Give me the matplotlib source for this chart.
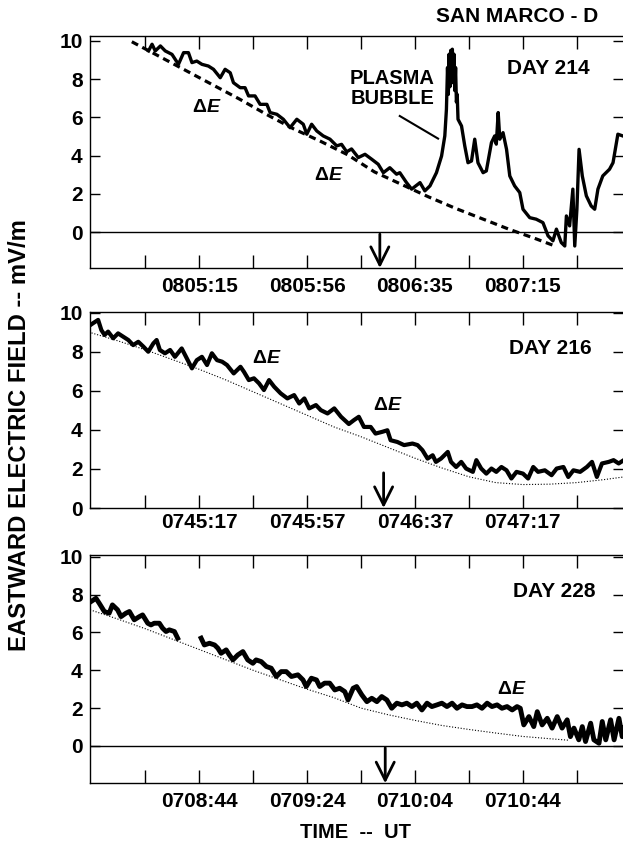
import numpy as np
import matplotlib
matplotlib.use("Agg")
import matplotlib.pyplot as plt

plt.rcParams['font.family'] = ['Liberation Sans', 'DejaVu Sans']
plt.rcParams['font.weight'] = 'bold'
plt.rcParams['mathtext.fontset'] = 'custom'
plt.rcParams['mathtext.rm'] = 'Liberation Sans:bold'
plt.rcParams['mathtext.it'] = 'Liberation Sans:italic:bold'

# time axis: seconds from the first tick, ticks every 20 s
tick_secs = [0, 20, 40, 60, 80, 100, 120, 140, 160]
labels_214 = ['', '0805:15', '', '0805:56', '', '0806:35', '', '0807:15', '']
labels_216 = ['', '0745:17', '', '0745:57', '', '0746:37', '', '0747:17', '']
labels_228 = ['', '0708:44', '', '0709:24', '', '0710:04', '', '0710:44', '']

# day 214 measured field
t214 = [1.2, 2.5, 3.7, 5.6, 7.4, 9.9, 12.3, 14.2, 16.0, 17.3, 19.1, 21.0, 23.4,
        25.3, 27.8, 29.6, 31.5, 32.7, 35.2, 37.0, 38.3, 40.7, 42.6, 45.1, 46.3,
        48.8, 51.2, 53.7, 56.2, 58.6, 59.9, 61.7, 63.6, 66.0, 68.5, 71.0, 72.8,
        74.7, 76.5, 79.0, 81.5, 84.0, 86.4, 88.3, 90.7, 93.2, 94.4, 96.9, 98.8,
        101.9, 103.7, 105.6, 108.0, 109.9, 111.1, 111.7, 112.1, 112.4, 112.7,
        113.0, 113.3, 113.6, 113.9, 114.2, 114.5, 114.8, 115.1, 115.4, 115.7,
        116.0, 117.3, 118.5, 119.7, 121.0, 122.2, 123.4, 125.3, 126.5, 128.4,
        129.6, 130.2, 130.9, 131.5, 132.7, 134.0, 135.2, 137.0, 138.9, 140.1,
        142.6, 145.0, 147.5, 149.4, 151.2, 152.5, 154.3, 155.6, 156.2, 157.4,
        158.6, 159.3, 160.1, 160.9, 162.1, 163.6, 165.4, 166.7, 167.9, 169.7,
        172.2, 173.5, 175.3, 177.1]
e214 = [9.47, 9.82, 9.47, 9.73, 9.47, 9.29, 8.77, 9.38, 9.38, 8.86, 8.94, 8.77, 8.68,
        8.51, 8.07, 8.51, 8.33, 7.81, 7.55, 7.55, 7.12, 7.12, 6.68, 6.68, 6.25,
        6.16, 5.90, 5.46, 5.90, 5.64, 5.12, 5.64, 5.29, 5.03, 4.86, 4.51, 4.59,
        4.20, 4.35, 3.90, 4.07, 3.81, 3.55, 3.11, 3.37, 3.03, 3.11, 2.59, 2.25,
        2.59, 2.16, 2.42, 3.11, 3.98, 5.03, 6.42, 8.60, 7.20, 9.30,
        7.60, 9.50, 7.80, 9.56, 8.00, 9.30, 7.40, 8.60, 6.80, 7.20,
        5.90, 5.55, 4.51, 3.63, 3.72, 4.86, 3.63, 3.11, 3.20, 4.68,
        5.03, 4.60, 6.25, 4.86, 5.20, 4.33, 2.94, 2.42, 2.07, 1.20,
        0.76, 0.68, 0.50, -0.19, -0.45, 0.16, -0.54, -0.72, 0.85, 0.33,
        2.25, -0.72, 1.20, 4.33, 2.94, 1.90, 1.37, 1.20, 2.25, 2.94,
        3.29, 3.63, 5.12, 5.03]
# day 214 reference curve (dashed)
tref214 = [-5, 5, 15, 25, 35, 45, 55, 65, 75, 85, 95, 105, 115, 125, 135, 145, 152.5]
eref214 = [9.95, 9.2, 8.45, 7.7, 6.95, 6.15, 5.4, 4.75, 4.05, 3.15, 2.5, 1.85, 1.25,
           0.7, 0.15, -0.35, -0.75]

# day 216 measured field
t216 = [-21.3, -19.4, -17.5, -16.3, -15.1, -13.8, -11.9, -10.1, -8.2, -6.3, -4.5,
        -2.6, -0.7, 1.1, 3.0, 4.2, 5.4, 7.3, 9.2, 11.0, 13.5, 15.4, 17.3, 19.1,
        21.0, 22.9, 24.7, 26.6, 28.5, 30.3, 32.8, 35.3, 36.6, 38.4, 40.3, 42.2,
        44.0, 45.9, 47.8, 50.2, 52.7, 55.2, 57.1, 59.0, 60.8, 63.3, 65.1, 67.6,
        70.1, 72.6, 75.5, 77.4, 79.2, 81.1, 83.6, 85.4, 87.9, 89.8, 91.0, 93.5,
        96.0, 99.1, 101.0, 102.8, 104.7, 106.6, 107.8, 109.7, 112.2, 113.4, 115.3,
        117.2, 119.0, 121.5, 122.8, 124.6, 126.5, 128.4, 130.2, 132.1, 134.0,
        135.8, 137.7, 140.1, 142.0, 143.9, 145.7, 148.2, 150.7, 152.6, 155.1,
        156.9, 158.8, 161.3, 163.8, 165.7, 167.5, 169.4, 171.9, 173.7, 175.6, 177.5]
e216 = [9.28, 9.46, 9.63, 9.11, 8.86, 9.03, 8.69, 8.94, 8.77, 8.60, 8.34,
        8.51, 8.26, 8.00, 8.43, 8.60, 8.09, 7.92, 8.09, 7.74, 8.17, 7.66, 7.15, 7.57,
        7.74, 7.32, 7.92, 7.57, 7.49, 7.32, 6.89, 7.23, 6.97, 6.55, 6.64, 6.38,
        6.04, 6.55, 6.21, 5.87, 5.61, 5.78, 5.35, 5.61, 5.10, 5.27, 5.01, 4.84,
        5.10, 4.67, 4.30, 4.50, 4.67, 4.15, 4.15, 3.81, 3.90, 3.98, 3.47, 3.38,
        3.22, 3.30, 3.22, 2.96, 2.53, 2.70, 2.36, 2.53, 2.87, 2.36, 2.10,
        2.36, 2.02, 1.85, 2.45, 2.02, 1.76, 2.02, 1.85, 2.10, 1.93,
        1.51, 1.85, 1.76, 1.51, 2.10, 1.85, 1.93, 1.68, 2.02, 2.10,
        1.59, 1.93, 1.85, 2.10, 2.36, 1.59, 2.28, 2.36, 2.45, 2.28, 2.45]
tref216 = [-22, -10, 0, 10, 20, 30, 40, 50, 60, 70, 80, 90, 100, 110, 120, 130, 140,
           150, 160, 170, 178]
eref216 = [9.05, 8.55, 8.1, 7.6, 7.1, 6.55, 5.95, 5.35, 4.75, 4.15, 3.65, 3.1, 2.55,
           2.05, 1.6, 1.3, 1.2, 1.22, 1.3, 1.45, 1.6]

# day 228 measured field (data gap near 15 s)
t228 = [-20.2, -18.3, -17.1, -15.2, -13.4, -12.2, -10.3, -9.0, -7.2, -5.9, -4.1,
        -2.2, -1.0, 0.9, 2.1, 3.3, 5.2, 6.4, 7.7, 8.9, 10.8, 12.0, 16.0,
        20.7, 21.9, 23.8, 25.7, 26.9, 28.1, 30.0, 31.2, 32.5, 34.3, 36.2, 38.0,
        39.9, 41.1, 43.0, 44.9, 46.7, 48.6, 50.4, 52.3, 54.2, 56.6, 58.5, 59.7,
        61.6, 63.5, 64.7, 66.5, 68.4, 70.3, 72.1, 74.0, 75.2, 77.1, 78.4, 80.3,
        82.2, 84.0, 85.9, 87.7, 89.6, 91.4, 93.3, 95.2, 97.0, 98.9, 100.7, 102.6,
        104.5, 106.3, 108.2, 110.0, 111.9, 113.8, 115.6, 117.5, 119.3, 121.2,
        123.0, 124.9, 126.8, 128.6, 130.5, 132.3, 134.2, 136.1, 137.9, 139.1,
        140.4, 142.3, 144.1, 145.4, 147.2, 149.1, 150.9, 152.8, 154.6, 156.5,
        157.7, 159.0, 160.8, 162.1, 163.3, 165.2, 166.4, 168.3, 169.5, 170.8,
        172.6, 173.9, 175.7, 176.9, 178.2]
e228 = [7.63, 7.81, 7.55, 7.11, 7.02, 7.46, 7.20, 6.84, 7.02, 7.11, 6.67,
        6.84, 6.93, 6.49, 6.40, 6.49, 6.49, 6.23, 6.05, 6.14, 6.05, 5.70, np.nan,
        5.70, 5.34, 5.43, 5.34, 5.17, 4.90, 5.08, 4.81, 4.55, 4.81, 4.99, 4.55,
        4.37, 4.55, 4.46, 4.20, 4.11, 3.67, 3.93, 3.93, 3.67, 3.76, 3.49, 3.14,
        3.58, 3.49, 3.14, 3.32, 3.32, 2.96, 3.05, 2.87, 2.43, 3.05, 3.14, 2.70,
        2.34, 2.52, 2.34, 2.61, 2.43, 1.99, 2.26, 2.17, 2.26, 2.08, 2.26, 1.90,
        2.26, 2.08, 2.17, 2.26, 2.08, 2.26, 1.99, 2.17, 2.08, 2.08,
        2.17, 1.99, 2.26, 2.08, 2.17, 1.99, 2.08, 1.90, 2.08, 1.99,
        1.11, 1.55, 1.02, 1.81, 1.11, 1.46, 0.94, 1.55, 0.94, 1.38,
        0.49, 0.94, 0.32, 1.02, 0.23, 1.20, 0.32, 0.14, 1.29, 0.32,
        1.38, 0.32, 1.46, 0.49, 1.38]
tref228 = [-20.5, -10, 0, 10, 20, 30, 40, 50, 60, 70, 80, 90, 100, 110, 120, 130,
           140, 150, 157]
eref228 = [7.2, 6.7, 6.2, 5.65, 5.1, 4.55, 4.0, 3.5, 3.0, 2.55, 2.0, 1.65, 1.35,
           1.08, 0.87, 0.68, 0.5, 0.38, 0.3]

W, H = 623, 844
fig = plt.figure(figsize=(W / 100, H / 100), dpi=100)


def make_axes(top_px, bottom_px, ylim, labels, pad):
    ax = fig.add_axes([89.5 / W, 1 - bottom_px / H, (W - 89.5) / W,
                       (bottom_px - top_px) / H])
    ax.set_xlim(-20.7, 177.2)
    ax.set_ylim(*ylim)
    ax.set_xticks(tick_secs)
    ax.set_xticklabels(labels)
    ax.set_yticks([0, 2, 4, 6, 8, 10])
    ax.tick_params(direction='in', top=True, right=True, width=1.0,
                   labelsize=15, colors='black')
    ax.tick_params(axis='x', length=9.5, pad=pad)
    ax.tick_params(axis='y', length=7, pad=5)
    for side in ['left', 'top', 'bottom']:
        ax.spines[side].set_linewidth(1.0)
    ax.spines['right'].set_visible(False)
    return ax


def down_arrow(ax, t, y0, y1):
    ax.annotate('', xy=(t, y1), xytext=(t, y0),
                arrowprops=dict(arrowstyle='->,head_width=0.65,head_length=1.3',
                                lw=2.0, color='black', shrinkA=0, shrinkB=0))


# DAY 214
ax1 = make_axes(36, 268, (-1.87, 10.25), labels_214, 6.5)
ax1.axhline(0, color='black', lw=1.0)
ax1.plot(tref214, eref214, color='black', lw=2.3, dashes=(2.2, 1.5))
ax1.plot(t214, e214, color='black', lw=2.4)
ax1.text(22.8, 6.5, r'$\Delta E$', fontsize=14, ha='center', va='center')
ax1.text(67.9, 2.94, r'$\Delta E$', fontsize=14, ha='center', va='center')
ax1.text(91.7, 7.51, 'PLASMA\nBUBBLE', fontsize=14.5, ha='center', va='center',
         linespacing=1.05)
ax1.plot([94.4, 108.6], [6.07, 4.89], color='black', lw=1.5)
ax1.text(149.4, 8.55, 'DAY 214', fontsize=15, ha='center', va='center')
down_arrow(ax1, 87.0, -0.1, -1.87)

# DAY 216
ax2 = make_axes(311.7, 508, (0, 10.05), labels_216, 3.5)
ax2.plot(tref216, eref216, color='black', lw=0.8, dashes=(1, 1.6))
ax2.plot(t216, e216, color='black', lw=3.0)
ax2.text(45, 7.66, r'$\Delta E$', fontsize=14, ha='center', va='center')
ax2.text(90, 5.27, r'$\Delta E$', fontsize=14, ha='center', va='center')
ax2.text(150.4, 8.19, 'DAY 216', fontsize=15, ha='center', va='center')
down_arrow(ax2, 88.4, 1.8, 0.0)

# DAY 228
ax3 = make_axes(555, 783.3, (-1.98, 10.1), labels_228, 6.5)
ax3.axhline(0, color='black', lw=1.0)
ax3.plot(tref228, eref228, color='black', lw=0.8, dashes=(1, 1.6))
ax3.plot(t228, e228, color='black', lw=3.5)
ax3.text(135.8, 3.0, r'$\Delta E$', fontsize=14, ha='center', va='center')
ax3.text(151.7, 8.16, 'DAY 228', fontsize=15, ha='center', va='center')
down_arrow(ax3, 89.0, -0.1, -1.98)

fig.text(517 / W, 1 - 16 / H, 'SAN MARCO - D', fontsize=15, ha='center',
         va='center')
fig.text(20 / W, 1 - 435 / H, 'EASTWARD ELECTRIC FIELD -- mV/m', fontsize=17.2,
         rotation=90, ha='center', va='center')
fig.text(355 / W, 1 - 833 / H, 'TIME  --  UT', fontsize=14.5, ha='center',
         va='center')

fig.savefig('out.png', dpi=100)
